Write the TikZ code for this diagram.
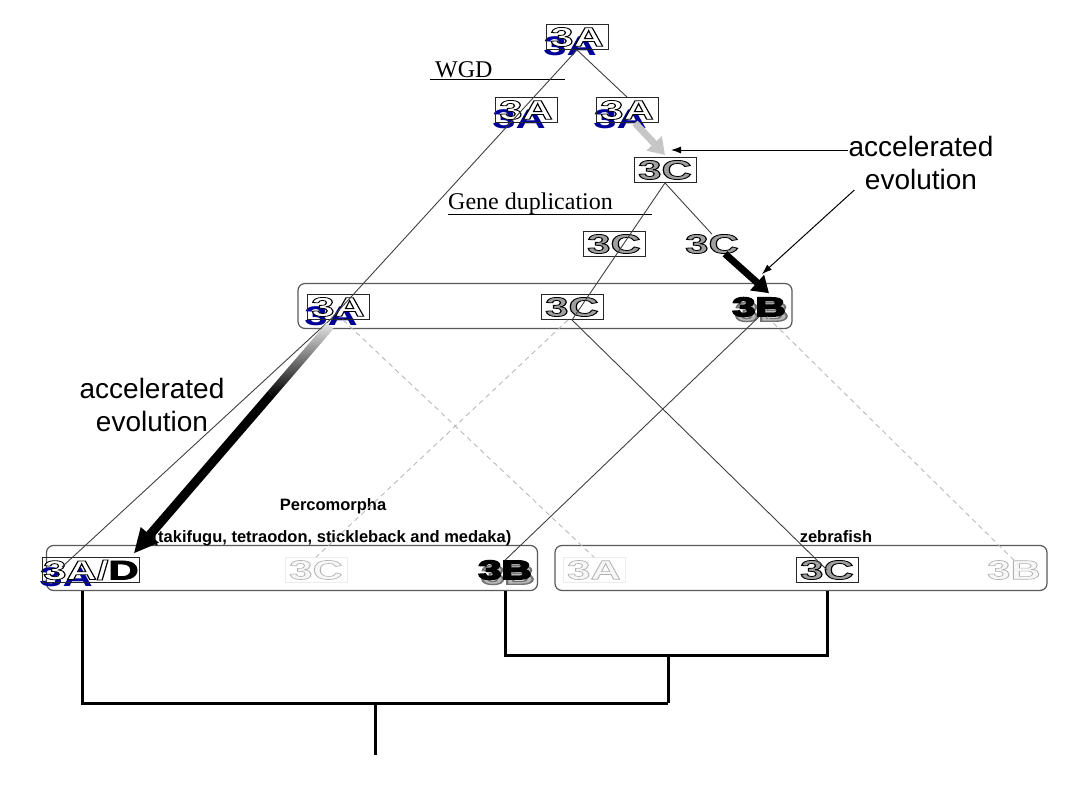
\documentclass[tikz,border=0pt]{standalone}
\usepackage{fontspec}
\setmainfont{Liberation Serif}
\setsansfont{Liberation Sans}
\usepackage{graphicx}
\usetikzlibrary{arrows.meta,calc}
\tikzset{>={Latex[width=7pt,length=10pt]}}

% stroke grey, stroke width, fill colour, text
\newcommand\wide[1]{\scalebox{1.55}[1]{#1}}
\newcommand\outl[4]{\textcolor{#3}{\special{pdf:code #1 G #2 w 2 Tr}#4\special{pdf:code 0 Tr 0.4 w}}}
\newcommand\hol[2]{\wide{\outl{0}{0.8}{#1}{#2}}}
\newcommand\pale[1]{\wide{\outl{0.7}{0.6}{gray!6}{#1}}}

\tikzset{
  gene/.style={font=\fontsize{27}{27}\selectfont\sffamily\bfseries, inner sep=0pt},
  genebox/.style={gene, draw=black!85, line width=0.9pt, minimum width=62, minimum height=25},
  palebox/.style={gene, draw=gray!15, line width=0.6pt, minimum width=62, minimum height=25},
  shadowA/.style={gene, text=blue!60!black},
  frame/.style={draw=black!65, line width=1.2pt, rounded corners=7pt, minimum height=45},
  branch/.style={draw=black!75, line width=0.9pt},
  lost/.style={draw=gray!55, line width=0.9pt, dash pattern=on 5pt off 4pt},
  tree/.style={line width=3pt},
  note/.style={font=\fontsize{28}{33}\selectfont\sffamily, align=center, inner sep=0pt},
  taxon/.style={font=\fontsize{16.5}{18}\selectfont\sffamily\bfseries, inner sep=0pt},
  event/.style={font=\fontsize{24}{24}\selectfont, inner sep=0pt},
}

\begin{document}
\begin{tikzpicture}[x=1pt,y=-1pt]
  \useasboundingbox (0,0) rectangle (1084,811);

  %% frames
  \node[frame, minimum width=494] (mid) at (545,306) {};
  \node[frame, minimum width=491] (perc) at (292,568) {};
  \node[frame, minimum width=492] (zeb) at (801,568) {};

  %% ancestral copies
  \node[shadowA] at (570,46) {\wide{3A}};
  \node[genebox] (a0) at (577,37) {\hol{white}{3A}};
  \node[event, anchor=base west] (wgd) at (435,77) {WGD};
  \draw[line width=1pt] ([xshift=-5,yshift=-2]wgd.base west) -- ++(135,0);

  \node[shadowA] at (519,119) {\wide{3A}};
  \node[genebox] (a1) at (526,110) {\hol{white}{3A}};
  \node[shadowA] at (620,119) {\wide{3A}};
  \node[genebox] (a2) at (627,110) {\hol{white}{3A}};

  \node[genebox] (c0) at (665,170) {\hol{gray!75}{3C}};
  \node[event, anchor=base west] (gd) at (448,209) {Gene duplication};
  \draw[line width=1pt] ([yshift=-5]gd.base west) -- ++(204,0);
  \node[genebox] (c1) at (614,244) {\hol{gray!75}{3C}};
  \node[gene] (c2) at (712,244) {\hol{gray!75}{3C}};

  %% after the duplications
  \node[shadowA] at (331,316) {\wide{3A}};
  \node[genebox] (ma) at (338,307) {\hol{white}{3A}};
  \node[genebox] (mc) at (572,307) {\hol{gray!75}{3C}};
  \node[gene] at (762,312) {\wide{\outl{0.45}{1.4}{gray!55}{3B}}};
  \node[gene] (mb) at (759,307) {\wide{\outl{0}{1.4}{black}{3B}}};

  %% Percomorpha
  \node[taxon] (pname) at (333,506) {Percomorpha};
  \node[taxon] (plist) at (332,538) {(takifugu, tetraodon, stickleback and medaka)};
  \node[shadowA] at (66,577) {\wide{3A}};
  \node[gene, draw=black!85, line width=0.9pt, inner xsep=1pt, minimum height=25] (pad) at (91,570)
    {\wide{\outl{0}{0.8}{white}{3A/}\outl{0}{0.8}{black}{D}}};
  \node[palebox] (pc) at (316,570) {\pale{3C}};
  \node[gene] at (508,575) {\wide{\outl{0.45}{1.4}{gray!55}{3B}}};
  \node[gene] (pb) at (505,570) {\wide{\outl{0}{1.4}{black}{3B}}};

  %% zebrafish
  \node[taxon] (zname) at (836,537) {zebrafish};
  \node[palebox] (za) at (594,570) {\pale{3A}};
  \node[genebox] (zc) at (827,570) {\hol{gray!75}{3C}};
  \node[gene] (zb) at (1014,570) {\pale{3B}};

  %% branches
  \draw[branch] (a0.south) -- ([xshift=-8]ma.south); % 3A -> 3A
  \draw[branch] (a0.south) -- (a2.north); % 3A -> 3A
  \draw[branch] (c0.south) -- (mc.south); % 3C -> 3C
  \draw[branch] (c0.south) -- (c2.north); % 3C -> 3C
  \draw[branch] ([xshift=-8]ma.south) -- ([shift={(20,10)}]pad.north west); % 3A -> 3A/D
  \draw[branch] (mc.south) -- (zc.center); % 3C -> zebrafish
  \draw[branch] (mb.south) -- (pb.north); % 3B -> Percomorpha
  \draw[lost] ([xshift=5]ma.south) -- (za.north);
  \draw[lost] ([xshift=-4]mc.south) -- (pc.north);
  \draw[lost] ([xshift=8]mb.south) -- (zb.north);

  %% rate shifts
  \draw[line width=7pt, gray!45, -{Triangle[length=16pt,width=20pt]}] ([xshift=8]a2.south) -- ([yshift=2]c0.north);
  \draw[line width=7pt, -{Triangle[length=16pt,width=20pt]}] ([xshift=-14]c2.south east) -- ([shift={(10,-4)}]mb.north);

  \coordinate (s0) at ($(ma.south)+(-8,6)$);
  \coordinate (s1) at ([shift={(-6,-4)}]pad.north east);
  \coordinate (s2) at ($(s1)!24pt!(s0)$);
  \coordinate (s3) at ($(s0)!0.3!(s1)$);
  \shade[top color=gray!20, bottom color=black]
    ($(s0)!4.5pt!90:(s1)$) -- ($(s3)!4.5pt!90:(s1)$) -- ($(s3)!4.5pt!-90:(s1)$) -- ($(s0)!4.5pt!-90:(s1)$) -- cycle;
  \fill[black] ($(s3)!4.5pt!90:(s1)$) -- ($(s2)!4.5pt!90:(s1)$) -- ($(s2)!12pt!90:(s1)$) -- (s1)
    -- ($(s2)!12pt!-90:(s1)$) -- ($(s2)!4.5pt!-90:(s1)$) -- ($(s3)!4.5pt!-90:(s1)$) -- cycle;

  \node[note, anchor=north] (acc1) at (921,136) {accelerated\\evolution};
  \node[note, anchor=north] (acc2) at (152,378) {accelerated\\evolution};
  \coordinate (t1) at (671,150);
  \coordinate (t2) at (762,274);
  \draw[->, line width=1pt] (acc1.west |- t1) -- (t1);
  \draw[->, line width=1pt] ([xshift=6]acc1.south west) -- (t2);

  %% species tree
  \coordinate (pa0) at ([xshift=-9]pad.south);
  \coordinate (j1) at (668,655);
  \coordinate (j2) at (668,703);
  \coordinate (rt) at (375,703);
  \draw[tree] (pa0 |- perc.south) |- (j2);
  \draw[tree] (pb.south |- perc.south) |- (j1) -| (zc.south |- zeb.south);
  \draw[tree] (j1) -- (j2);
  \draw[tree] (rt) -- ++(0,52);

\end{tikzpicture}
\end{document}
